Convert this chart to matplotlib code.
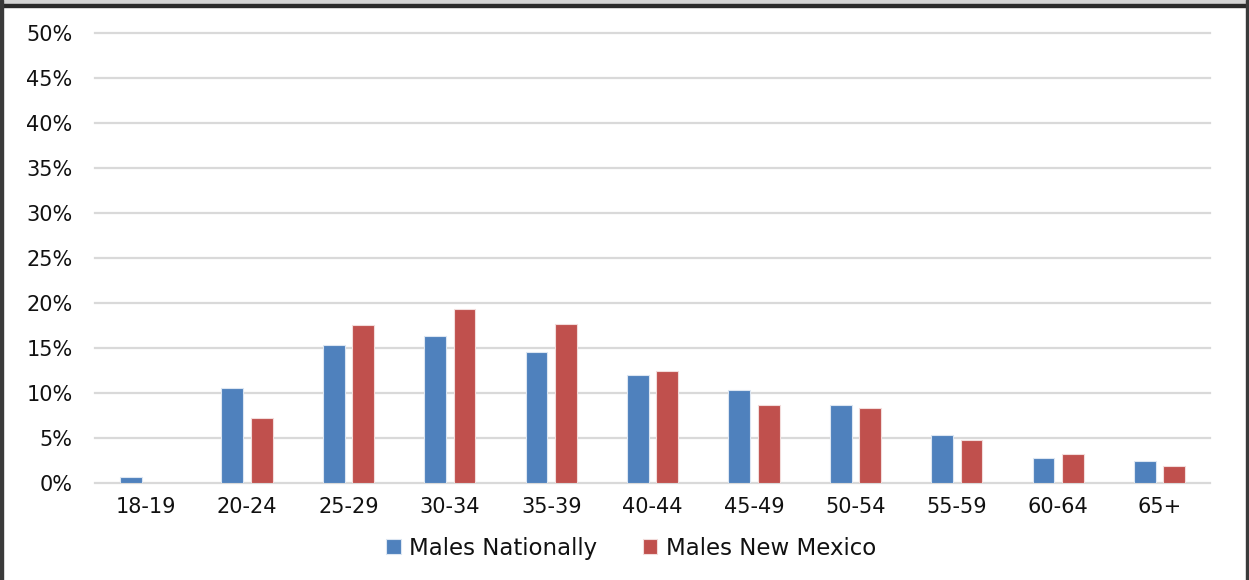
import matplotlib.pyplot as plt
import numpy as np
from matplotlib.patches import Rectangle

plt.rcParams['font.family'] = ['DejaVu Sans']

age_groups = ["18-19", "20-24", "25-29", "30-34", "35-39", "40-44",
              "45-49", "50-54", "55-59", "60-64", "65+"]
males_national = [0.7, 10.6, 15.3, 16.3, 14.6, 12.0, 10.3, 8.7, 5.4, 2.8, 2.5]
males_nm = [0, 7.2, 17.6, 19.4, 17.7, 12.5, 8.7, 8.3, 4.8, 3.2, 1.9]


def main():
    fig = plt.figure(figsize=(12.49, 5.8), dpi=100)
    ax = fig.add_axes([0.076, 0.167, 0.893, 0.776])

    x = np.arange(len(age_groups))
    w = 0.215
    off = 0.145
    ax.bar(x - off, males_national, w, color="#4F81BD", edgecolor="#dce6f2",
           linewidth=0.8, label="Males Nationally", zorder=3)
    ax.bar(x + off, males_nm, w, color="#C0504D", edgecolor="#f2dcdb",
           linewidth=0.8, label="Males New Mexico", zorder=3)

    ax.set_xlim(-0.5, len(age_groups) - 0.5)
    ax.set_ylim(0, 50)
    ax.set_yticks(np.arange(0, 51, 5))
    ax.set_yticklabels([f"{v}%" for v in range(0, 51, 5)])
    ax.set_xticks(x)
    ax.set_xticklabels(age_groups)
    ax.tick_params(axis="y", length=0, pad=16, labelsize=15, colors="#111111")
    ax.tick_params(axis="x", length=0, pad=10, labelsize=15, colors="#111111")
    ax.yaxis.grid(True, color="#d9d9d9", linewidth=1.6, zorder=0)
    for gl in ax.get_ygridlines():
        gl.set_clip_on(False)
    for s in ax.spines.values():
        s.set_visible(False)

    leg = fig.legend(loc="center", bbox_to_anchor=(0.505, 0.055), ncol=2,
                     frameon=False, fontsize=16.5, handlelength=0.65,
                     handleheight=0.65, handletextpad=0.35, columnspacing=2.0)
    for t in leg.get_texts():
        t.set_color("#111111")

    # window frame around the chart
    fig.patches.append(Rectangle((0, 1 - 4 / 580), 1, 4 / 580,
                                 transform=fig.transFigure, color="#d4d4d4"))
    fig.patches.append(Rectangle((0, 1 - 6.5 / 580), 1, 2.5 / 580,
                                 transform=fig.transFigure, color="#2b2b2b"))
    fig.patches.append(Rectangle((0, 0), 2.5 / 1249, 1,
                                 transform=fig.transFigure, color="#3a3a3a"))
    fig.patches.append(Rectangle((1 - 3 / 1249, 0), 3 / 1249, 1,
                                 transform=fig.transFigure, color="#3a3a3a"))

    fig.savefig("out.png", dpi=100, facecolor="white")


if __name__ == "__main__":
    main()
